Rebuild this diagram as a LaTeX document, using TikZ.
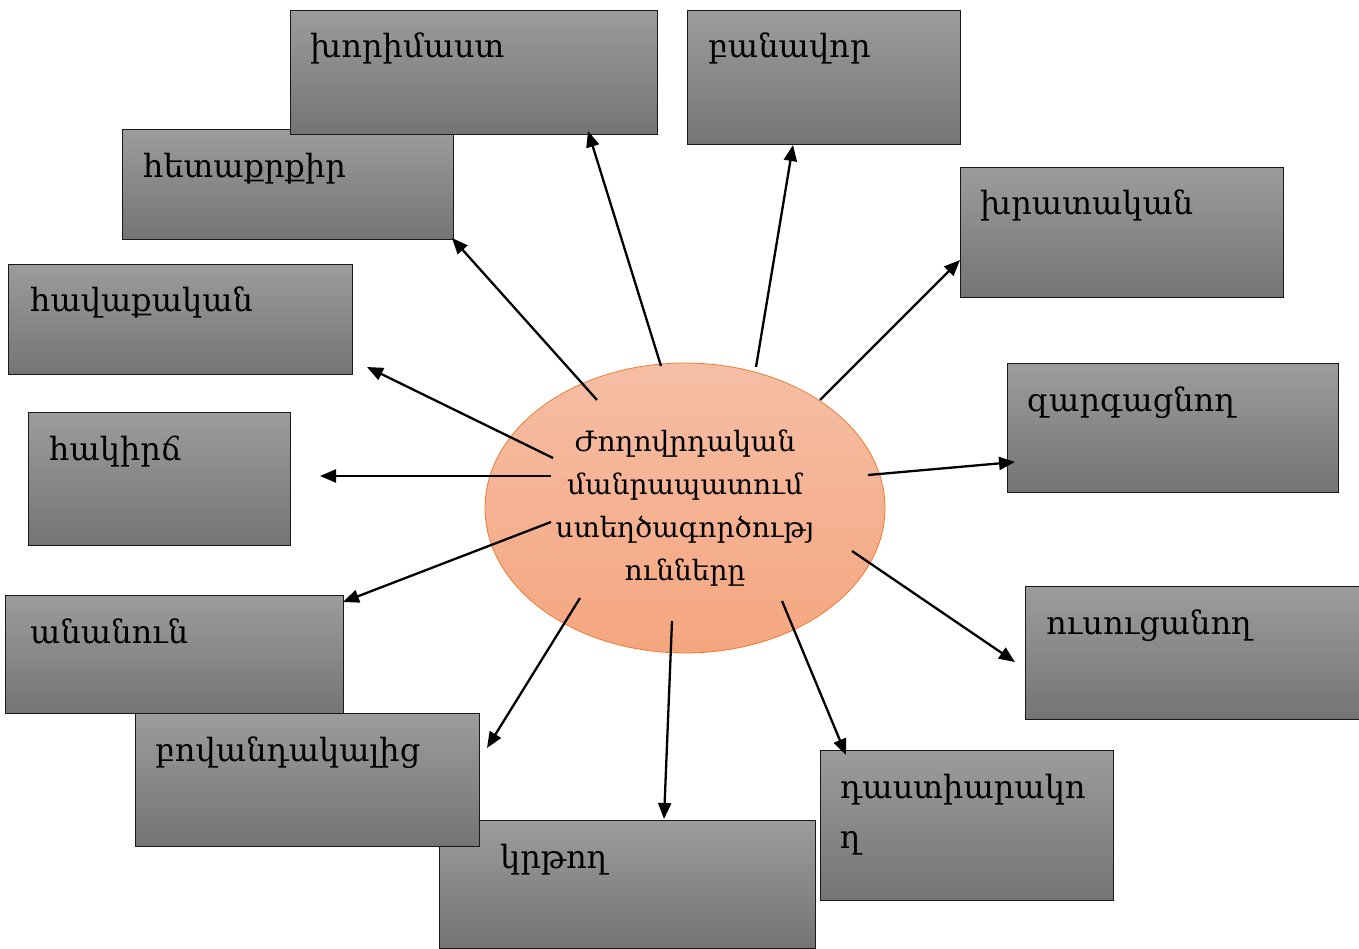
\documentclass[tikz,border=0pt]{standalone}
\usepackage{fontspec}
\setmainfont{DejaVu Serif}
\usetikzlibrary{arrows.meta,shapes.geometric}
\definecolor{boxtop}{HTML}{9C9C9C}
\definecolor{boxbot}{HTML}{747474}
\definecolor{elltop}{HTML}{F5BEA5}
\definecolor{ellbot}{HTML}{F5A67F}
\definecolor{ellline}{HTML}{ED7D31}
\begin{document}
\begin{tikzpicture}[x=1pt,y=-1pt,
  box/.style={draw=black!90, line width=1.2pt, top color=boxtop, bottom color=boxbot, inner sep=0pt, anchor=north west},
  lbl/.style={anchor=base west, font=\fontsize{32}{50}\selectfont, inner sep=0pt, align=left},
  arr/.style={line width=2.3pt, -{Triangle[length=16pt,width=13pt]}}]
\useasboundingbox (0,0) rectangle (1359,949);
% boxes
\node[box, minimum width=331pt, minimum height=110pt] (hetaq) at (122,129) {};
\node[box, minimum width=367pt, minimum height=124pt] (khor) at (290,10) {};
\node[box, minimum width=273pt, minimum height=134pt] (banav) at (687,10) {};
\node[box, minimum width=323pt, minimum height=130pt] (khrat) at (960,167) {};
\node[box, minimum width=344pt, minimum height=110pt] (havaq) at (8,264) {};
\node[box, minimum width=331pt, minimum height=129pt] (zarg) at (1007,363) {};
\node[box, minimum width=262pt, minimum height=133pt] (hakirc) at (28,412) {};
\node[box, minimum width=338pt, minimum height=118pt] (anan) at (5,595) {};
\node[box, minimum width=345pt, minimum height=133pt] (usuc) at (1025,586) {};
\node[box, minimum width=376pt, minimum height=128pt] (krtox) at (439,820) {};
\node[box, minimum width=344pt, minimum height=133pt] (bovand) at (135,713) {};
\node[box, minimum width=293pt, minimum height=150pt] (dast) at (820,750) {};
% labels
\node[lbl] (t1) at (310,58) {խորիմաստ};
\node[lbl] (t2) at (708,58) {բանավոր};
\node[lbl] (t3) at (143,178) {հետաքրքիր};
\node[lbl] (t4) at (980,215) {խրատական};
\node[lbl] (t5) at (30,312) {հավաքական};
\node[lbl] (t6) at (1027,411) {զարգացնող};
\node[lbl] (t7) at (49,460) {հակիրճ};
\node[lbl] (t8) at (30,643) {անանուն};
\node[lbl] (t9) at (1046,634) {ուսուցանող};
\node[lbl] (t10) at (155,761) {բովանդակալից};
\node[lbl] (t11) at (500,868) {կրթող};
\node[lbl] (t12) at (840,848) {դաստիարակո\\ղ};
% center
\node[ellipse, draw=ellline, line width=0.8pt, top color=elltop, bottom color=ellbot,
      minimum width=400pt, minimum height=290pt, align=center, inner sep=0pt,
      font=\fontsize{28}{43}\selectfont] (c) at (685,508)
  {Ժողովրդական\\մանրապատում\\ստեղծագործությ\\ունները};
% connector ends
\coordinate (s1) at (597,400);  \coordinate (e1) at (452,238);
\coordinate (s2) at (661,366);  \coordinate (e2) at (588,131);
\coordinate (s3) at (756,367);  \coordinate (e3) at (793,145);
\coordinate (s4) at (820,400);  \coordinate (e4) at (960,260);
\coordinate (s5) at (868,475);  \coordinate (e5) at (1015,462);
\coordinate (s6) at (852,551);  \coordinate (e6) at (1015,662);
\coordinate (s7) at (782,601);  \coordinate (e7) at (846,755);
\coordinate (s8) at (672,621);  \coordinate (e8) at (664,819);
\coordinate (s9) at (580,598);  \coordinate (e9) at (487,748);
\coordinate (s10) at (551,522); \coordinate (e10) at (343,602);
\coordinate (s11) at (551,476); \coordinate (e11) at (320,476);
\coordinate (s12) at (553,458); \coordinate (e12) at (367,367);
\foreach \i in {1,...,12} { \draw[arr] (s\i) -- (e\i); }
\end{tikzpicture}
\end{document}
